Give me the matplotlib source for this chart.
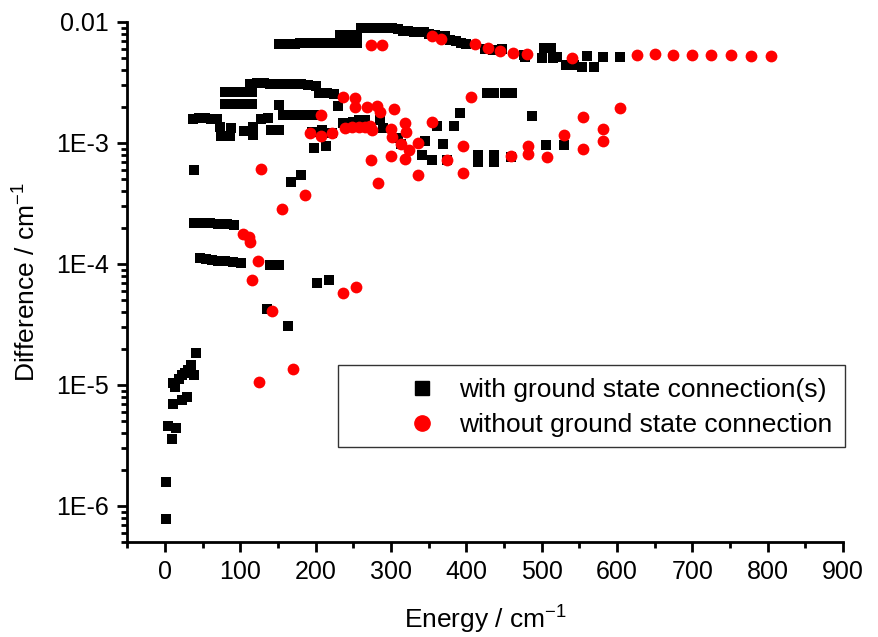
import matplotlib
matplotlib.use("Agg")
import matplotlib.pyplot as plt
from matplotlib.lines import Line2D
from matplotlib.patches import Rectangle
from matplotlib.ticker import FixedLocator, LogLocator, NullFormatter, MultipleLocator

plt.rcParams['font.family'] = ['Liberation Sans', 'DejaVu Sans']

# ---- data: with ground state connection(s) (black squares) ----
with_x = [1, 2, 10, 4, 15, 11, 22, 29, 13, 11, 18, 22, 26, 31, 35, 38, 41,
          38, 46, 51, 60, 71, 82, 91,
          46, 54, 62, 71, 80, 90, 101, 139, 151, 202, 218, 136, 163,
          39, 180, 167,
          37, 45, 53, 61, 69, 73, 88, 75, 87,
          80, 90, 100, 110, 116, 80, 90, 100, 110, 116,
          113, 122, 131, 140, 150, 160, 170, 180, 190, 200, 205, 215, 225,
          117, 117, 105, 127, 137, 141, 151, 152,
          157, 167, 177, 188, 198, 230, 198, 214, 195, 208, 222,
          236, 250, 258, 265, 285, 290, 310, 313,
          345, 341, 355, 369, 375, 361, 384, 391,
          416, 416, 437, 437, 459, 427, 437, 451, 461, 487, 506, 530,
          151, 158, 165, 172, 179, 186, 193, 200, 207, 214, 221, 228, 235, 242, 249, 255,
          232, 240, 248, 255,
          260, 267, 274, 281, 288, 295, 302, 309,
          316, 323, 330, 337, 344, 351, 358, 365, 372,
          379, 386, 393, 399, 425, 435, 447,
          476, 478, 500, 503, 512, 515, 521, 532, 543, 553, 560, 570, 581, 604]
with_y = [7.8e-7, 1.57e-6, 3.6e-6, 4.6e-6, 4.4e-6, 7.0e-6, 7.5e-6, 7.9e-6, 9.7e-6, 1.03e-5,
          1.13e-5, 1.21e-5, 1.25e-5, 1.33e-5, 1.46e-5, 1.21e-5, 1.83e-5,
          2.2e-4, 2.2e-4, 2.2e-4, 2.18e-4, 2.15e-4, 2.12e-4, 2.1e-4,
          1.11e-4, 1.1e-4, 1.08e-4, 1.06e-4, 1.05e-4, 1.04e-4, 1.02e-4, 9.9e-5, 9.8e-5,
          7.0e-5, 7.4e-5, 4.25e-5, 3.07e-5,
          6.0e-4, 5.45e-4, 4.75e-4,
          1.58e-3, 1.6e-3, 1.6e-3, 1.58e-3, 1.58e-3, 1.36e-3, 1.32e-3, 1.15e-3, 1.15e-3,
          2.65e-3, 2.65e-3, 2.65e-3, 2.65e-3, 2.62e-3, 2.09e-3, 2.09e-3, 2.09e-3, 2.09e-3, 2.09e-3,
          3.1e-3, 3.12e-3, 3.12e-3, 3.1e-3, 3.05e-3, 3.1e-3, 3.1e-3, 3.08e-3, 3.0e-3, 2.95e-3,
          2.58e-3, 2.58e-3, 2.55e-3,
          1.35e-3, 1.17e-3, 1.25e-3, 1.58e-3, 1.6e-3, 1.28e-3, 1.28e-3, 2.06e-3,
          1.7e-3, 1.7e-3, 1.7e-3, 1.7e-3, 1.7e-3, 2.02e-3, 9.1e-4, 9.5e-4, 1.23e-3, 1.28e-3, 1.2e-3,
          1.45e-3, 1.5e-3, 1.55e-3, 1.55e-3, 1.55e-3, 1.32e-3, 1.1e-3, 9.8e-4,
          1.03e-3, 8.0e-4, 7.3e-4, 9.9e-4, 7.2e-4, 1.39e-3, 1.39e-3, 1.76e-3,
          8.0e-4, 7.0e-4, 8.0e-4, 7.0e-4, 7.7e-4, 2.58e-3, 2.58e-3, 2.58e-3, 2.58e-3,
          1.68e-3, 9.6e-4, 9.6e-4,
          6.6e-3, 6.6e-3, 6.62e-3, 6.62e-3, 6.64e-3, 6.64e-3, 6.66e-3, 6.66e-3,
          6.68e-3, 6.68e-3, 6.7e-3, 6.7e-3, 6.72e-3, 6.72e-3, 6.75e-3, 6.75e-3,
          7.8e-3, 7.8e-3, 7.85e-3, 7.85e-3,
          8.85e-3, 8.9e-3, 8.9e-3, 8.9e-3, 8.9e-3, 8.9e-3, 8.85e-3, 8.8e-3,
          8.5e-3, 8.4e-3, 8.3e-3, 8.25e-3, 8.2e-3, 7.9e-3, 7.8e-3, 7.7e-3, 7.6e-3,
          7.1e-3, 7.0e-3, 6.7e-3, 6.6e-3, 6.0e-3, 5.9e-3, 5.95e-3,
          5.3e-3, 5.15e-3, 5.0e-3, 6.07e-3, 6.07e-3, 5.0e-3, 5.17e-3, 4.4e-3, 4.4e-3,
          4.25e-3, 5.2e-3, 4.25e-3, 5.17e-3, 5.17e-3]

# ---- data: without ground state connection (red circles) ----
without_x = [274, 288, 354, 367, 411, 429, 445, 462, 481, 540,
             627, 650, 674, 700, 725, 751, 778, 805,
             237, 252, 252, 268, 281, 285, 304, 406,
             207, 192, 207, 222, 239, 248, 257, 266, 272, 275,
             273, 283, 300, 301, 300, 313, 319, 320, 319, 324, 336, 336, 355,
             375, 395, 395, 460, 482, 482, 507, 530, 555, 555, 581, 581, 604,
             128, 186, 156, 103, 111, 113, 123, 115, 142, 237, 254, 125, 170]
without_y = [6.45e-3, 6.45e-3, 7.7e-3, 7.25e-3, 6.54e-3, 6.13e-3, 5.76e-3, 5.51e-3, 5.41e-3, 5.07e-3,
             5.34e-3, 5.4e-3, 5.38e-3, 5.3e-3, 5.38e-3, 5.34e-3, 5.26e-3, 5.24e-3,
             2.41e-3, 2.37e-3, 1.97e-3, 1.97e-3, 2.03e-3, 1.82e-3, 1.91e-3, 2.38e-3,
             1.7e-3, 1.2e-3, 1.15e-3, 1.2e-3, 1.32e-3, 1.36e-3, 1.36e-3, 1.36e-3, 1.38e-3, 1.28e-3,
             7.3e-4, 4.65e-4, 1.31e-3, 1.13e-3, 7.85e-4, 9.75e-4, 1.45e-3, 1.24e-3, 7.4e-4,
             8.75e-4, 1.0e-3, 5.44e-4, 1.48e-3,
             7.3e-4, 9.45e-4, 5.6e-4, 7.85e-4, 9.45e-4, 8.07e-4, 7.7e-4, 1.16e-3, 1.65e-3,
             8.87e-4, 1.31e-3, 1.04e-3, 1.94e-3,
             6.1e-4, 3.72e-4, 2.85e-4, 1.77e-4, 1.68e-4, 1.51e-4, 1.06e-4, 7.4e-5, 4.1e-5,
             5.8e-5, 6.4e-5, 1.05e-5, 1.36e-5]

series_labels = ["with ground state connection(s)", "without ground state connection"]
x_ticks = [0, 100, 200, 300, 400, 500, 600, 700, 800, 900]
y_ticks = [1e-6, 1e-5, 1e-4, 1e-3, 1e-2]
y_tick_labels = ["1E-6", "1E-5", "1E-4", "1E-3", "0.01"]

fig = plt.figure(figsize=(8.79, 6.37), dpi=100)
ax = fig.add_axes([0.1448, 0.1485, 0.8142, 0.817])

ax.scatter(with_x, with_y, marker='s', s=52, color='black', linewidths=0, zorder=3)
ax.scatter(without_x, without_y, marker='o', s=72, color='#ff0000', linewidths=0, zorder=4)

ax.set_yscale('log')
ax.set_xlim(-50, 900)
ax.set_ylim(5e-7, 1e-2)

ax.xaxis.set_major_locator(FixedLocator(x_ticks))
ax.xaxis.set_minor_locator(MultipleLocator(50))
ax.set_yticks(y_ticks)
ax.set_yticklabels(y_tick_labels)
ax.yaxis.set_minor_locator(LogLocator(base=10, subs=range(2, 10), numticks=20))
ax.yaxis.set_minor_formatter(NullFormatter())

for side in ['top', 'right']:
    ax.spines[side].set_visible(False)
for side in ['left', 'bottom']:
    ax.spines[side].set_linewidth(2)

ax.tick_params(which='major', direction='out', length=7, width=2, labelsize=18, pad=6)
ax.tick_params(which='minor', direction='out', length=4, width=2)

ax.set_xlabel("Energy / cm$^{\\mathregular{-1}}$", fontsize=19, labelpad=13)
ax.set_ylabel("Difference / cm$^{\\mathregular{-1}}$", fontsize=19)
ax.yaxis.set_label_coords(-0.122, 0.5)

# legend box
ax.add_patch(Rectangle((0.294, 0.1833), 0.709, 0.158, transform=ax.transAxes,
                       fill=False, edgecolor='#333333', linewidth=1.0, clip_on=False, zorder=5))
handles = [Line2D([], [], marker='s', color='black', linestyle='none', markersize=10),
           Line2D([], [], marker='o', color='#ff0000', linestyle='none', markersize=11)]
ax.legend(handles, series_labels, loc='center left', bbox_to_anchor=(0.375, 0.259),
          frameon=False, fontsize=19, borderpad=0, borderaxespad=0,
          handlelength=2.0, handletextpad=0.4, labelspacing=0.4)

fig.savefig("out.png", dpi=100)
